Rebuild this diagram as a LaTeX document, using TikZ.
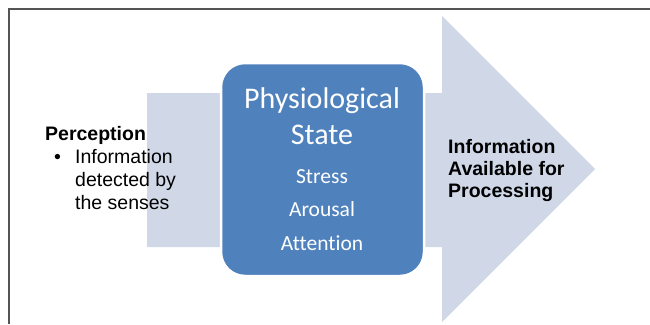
\documentclass[tikz,border=0pt]{standalone}
\usepackage{fontspec}
\setmainfont{Liberation Sans}
\newfontfamily\calib[Ligatures=CommonOff]{Carlito}
\definecolor{arrowfill}{HTML}{D0D8E8}
\definecolor{boxfill}{HTML}{4F81BD}
\definecolor{framegray}{HTML}{555555}
\begin{document}
\begin{tikzpicture}[x=1pt,y=-1pt,
  frameline/.style={draw=framegray,line width=1.5pt},
  lefttext/.style={anchor=base west,inner sep=0pt,font=\fontsize{19.5}{23}\selectfont},
  boxtext/.style={anchor=base,inner sep=0pt,text=white,font=\calib\fontsize{21.5}{26}\selectfont},
  titletext/.style={anchor=base,inner sep=0pt,text=white,font=\calib\fontsize{30}{36}\selectfont}]
\useasboundingbox (0,0) rectangle (650,324);
% frame
\draw[frameline] (650,9) -- (9,9) -- (9,324);
% big arrow
\fill[arrowfill] (147,93) -- (442,93) -- (442,16) -- (595,169) -- (442,322) -- (442,247) -- (147,247) -- cycle;
% rounded box
\node[draw=white,line width=2.5pt,fill=boxfill,rounded corners=24pt,minimum width=203pt,minimum height=213pt,inner sep=0pt] (box) at (322.5,169.5) {};
% box texts
\node[titletext] (t1) at (322,108) {Physiological};
\node[titletext] (t2) at (322,144) {State};
\node[boxtext] (s1) at (322,183) {Stress};
\node[boxtext] (s2) at (322,216.5) {Arousal};
\node[boxtext] (s3) at (322,250) {Attention};
% left texts
\node[lefttext,font=\bfseries\fontsize{19.5}{23}\selectfont] (perc) at (45,140) {Perception};
\node[lefttext] (bul) at (54,163) {•};
\node[lefttext] (l1) at (75,163) {Information};
\node[lefttext] (l2) at (75,186) {detected by};
\node[lefttext] (l3) at (75,209) {the senses};
% right texts
\node[lefttext,font=\bfseries\fontsize{19.5}{23}\selectfont] (r1) at (448,153) {Information};
\node[lefttext,font=\bfseries\fontsize{19.5}{23}\selectfont] (r2) at (448,175) {Available for};
\node[lefttext,font=\bfseries\fontsize{19.5}{23}\selectfont] (r3) at (448,197) {Processing};
\end{tikzpicture}
\end{document}
